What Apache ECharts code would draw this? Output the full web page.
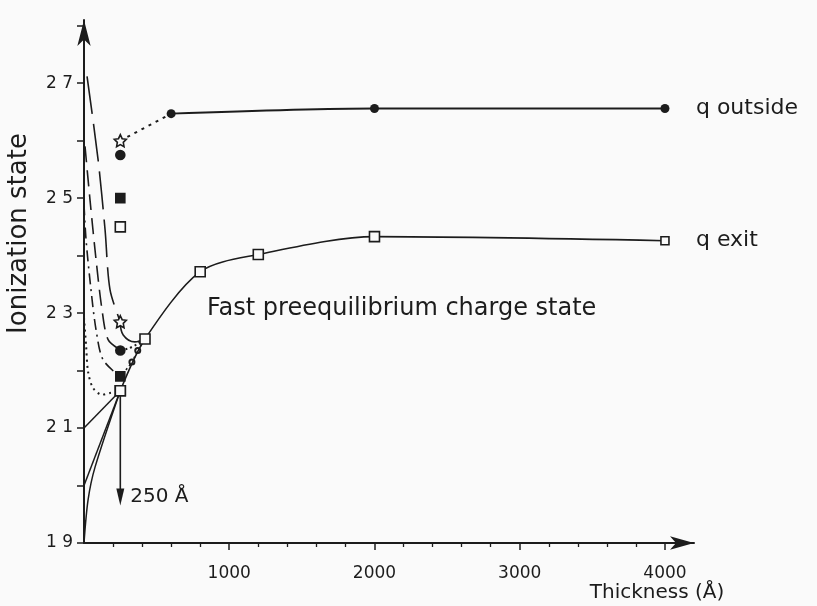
<!DOCTYPE html>
<html><head><meta charset="utf-8">
<script src="https://cdn.jsdelivr.net/npm/echarts@6/dist/echarts.min.js"></script>
<style>html,body{margin:0;padding:0;background:#fafafa}#c{width:817px;height:606px}</style>
</head><body><div id="c"></div>
<script>
// ---- axis ticks / labels ----
const yTickValues = [19,20,21,22,23,24,25,26,27,28];
const yLabelValues = [19,21,23,25,27];
const xLabelValues = [1000,2000,3000,4000];
const xMinorTickValues = [200,400,600,800,1200,1400,1600,1800,2200,2400,2600,2800,3200,3400,3600,3800];

// ---- main series ----
const exitThickness = [250,420,800,1200,2000,4000];
const exitCharge = [21.65,22.55,23.72,24.02,24.33,24.26];
const outsideThickness = [600,2000,4000];
const outsideCharge = [26.47,26.56,26.56];
const outsideLeadX = [250,600];
const outsideLeadY = [26.0,26.47];

// ---- points at 250 A ----
const foilX = 250;
const outsideAtFoil = [26.0,25.75,25.0,24.5]; // star, disc, full square, open square
const exitAtFoil = [22.85,22.35,21.9,21.65];

// ---- fast pre-equilibrium curves ----
const starCurveX = [21,97,145,179,250];
const starCurveY = [27.12,25.67,24.45,23.41,22.85];
const discCurveX = [7,41,83,124,166,250];
const discCurveY = [25.9,24.98,23.93,23.06,22.54,22.36];
const squareCurveX = [0,14,48,83,131,250];
const squareCurveY = [24.89,24.28,23.41,22.71,22.19,21.89];
const openCurveX = [0,14,28,62,124,179,250];
const openCurveY = [22.92,22.45,21.98,21.70,21.58,21.61,21.63];

const starJoinX = [250,270,350,420];
const starJoinY = [22.85,22.62,22.5,22.55];
const discJoinX = [250,300,360,420];
const discJoinY = [22.36,22.38,22.45,22.55];
const squareJoinX = [250,330,370,420];
const squareJoinY = [21.89,22.15,22.35,22.55];

const initLinesX = [[0,250],[0,250],[0,28,76,250]];
const initLinesY = [[21,21.65],[20,21.65],[19,19.75,20.32,21.65]];

const arrowX = [250,250];
const arrowY = [21.65,19.8];

const INK = '#1c1c1c';
const BG = '#fafafa';
const FONT = 'DejaVu Sans';
const STAR = 'path://M0,-10L2.9,-4L9.5,-3.1L4.7,1.5L5.9,8.1L0,5L-5.9,8.1L-4.7,1.5L-9.5,-3.1L-2.9,-4Z';

function zip(xs, ys){ return xs.map((x,i)=>[x, ys[i]]); }
function curve(xs, ys, dash, smooth, width){
  return {type:'line', data:zip(xs,ys), symbol:'none', smooth: smooth,
    lineStyle:{color:INK, width: width||1.6, type: dash}, silent:true, z:2};
}

const chart = echarts.init(document.getElementById('c'));
const series = [];
initLinesX.forEach((xs,i)=>series.push(curve(xs, initLinesY[i], 'solid', 0.3, 1.5)));
series.push(curve(starCurveX, starCurveY, [38,10], 0.3));
series.push(curve(discCurveX, discCurveY, [16,8], 0.3));
series.push(curve(squareCurveX, squareCurveY, [11,5,2,5], 0.3));
series.push(curve(openCurveX, openCurveY, [2,4], 0.3, 2));
series.push(curve(starJoinX, starJoinY, 'solid', 0.4));
series.push(curve(discJoinX, discJoinY, [2,3], 0.3, 2));
series.push({type:'line', data:zip(squareJoinX, squareJoinY), smooth:0.3,
  symbol:(v,p)=> (p.dataIndex===1||p.dataIndex===2)?'emptyCircle':'none', symbolSize:5,
  itemStyle:{color:INK, borderColor:INK, borderWidth:1.2},
  lineStyle:{color:INK,width:1.6,type:[6,3,2,3]}, z:2});
// q exit
series.push({name:'q exit', type:'line', data:zip(exitThickness, exitCharge), smooth:0.3,
  symbol:'rect', symbolSize:(v,p)=>p.dataIndex===exitThickness.length-1?8:10,
  itemStyle:{color:BG, borderColor:INK, borderWidth:1.6, opacity:1},
  lineStyle:{color:INK,width:1.6}, z:3,
  endLabel:{show:true, formatter:'q exit', distance:31, color:INK, fontFamily:FONT, fontSize:22}});
// q outside
series.push({type:'line', data:zip(outsideLeadX, outsideLeadY), symbol:'none',
  lineStyle:{color:INK,width:2,type:[3,5]}, z:2});
series.push({name:'q outside', type:'line', data:zip(outsideThickness, outsideCharge), smooth:0.3,
  symbol:'circle', symbolSize:9, itemStyle:{color:INK, opacity:1},
  lineStyle:{color:INK,width:1.8}, z:3,
  endLabel:{show:true, formatter:'q outside', distance:31, color:INK, fontFamily:FONT, fontSize:22}});
// markers at 250 A
const syms = [STAR,'circle','rect','rect'];
const fills = [BG,INK,INK,BG];
const sizes = [12,9,9,10];
[outsideAtFoil, exitAtFoil].forEach(arr=>{
  series.push({type:'scatter', z:4,
    data: arr.map((y,i)=>({value:[foilX,y], symbol:syms[i], symbolSize:sizes[i],
      itemStyle:{color:fills[i], borderColor:INK, borderWidth:1.6, opacity:1}}))});
});
// 250 A arrow
series.push({type:'line', z:2, data: zip(arrowX, arrowY).map((v,i)=> i===0 ? {value:v, symbol:'none'} :
   {value:v, symbol:'triangle', symbolRotate:180, symbolSize:[8,17],
    label:{show:true, position:'right', distance:6, formatter:'250 Å', color:INK, fontFamily:FONT, fontSize:20}}),
  itemStyle:{color:INK, opacity:1}, lineStyle:{color:INK,width:1.6}});

const option = {
  backgroundColor:BG,
  animation:false,
  grid:{left:84, right:123, top:20, bottom:63, containLabel:false, outerBoundsMode:'none'},
  xAxis:[{type:'value', min:0, max:4200,
    axisLine:{show:true, lineStyle:{color:INK,width:2}, symbol:['none','arrow'], symbolSize:[10,24]},
    axisTick:{show:true, customValues:xLabelValues, length:7, lineStyle:{color:INK,width:1.5}},
    axisLabel:{customValues:xLabelValues, color:INK, fontFamily:FONT, fontSize:17, margin:22,
      formatter:v=>String(v)},
    splitLine:{show:false},
    name:'Thickness (Å)', nameLocation:'middle', nameGap:40, nameMoveOverlap:false,
    nameTextStyle:{color:INK, fontFamily:FONT, fontSize:20, padding:[0,0,0,536]}},
   {type:'value', min:0, max:4200, position:'bottom',
    axisLine:{show:false},
    axisTick:{show:true, customValues:xMinorTickValues, length:4, lineStyle:{color:INK,width:1.3}},
    axisLabel:{show:false}, splitLine:{show:false}}],
  yAxis:{type:'value', min:19, max:28.1,
    axisLine:{show:true, lineStyle:{color:INK,width:2}, symbol:['none','arrow'], symbolSize:[10,26]},
    axisTick:{show:true, customValues:yTickValues, length:7, lineStyle:{color:INK,width:1.5}},
    axisLabel:{customValues:yLabelValues, color:INK, fontFamily:FONT, fontSize:17, margin:11,
      formatter:v=>String(v).split('').join(' ')},
    splitLine:{show:false},
    name:'Ionization state', nameLocation:'middle', nameGap:52,
    nameTextStyle:{color:INK, fontFamily:FONT, fontSize:26, padding:[0,0,0,96]}},
  graphic:[{type:'text', left:207, top:297,
    style:{text:'Fast preequilibrium charge state', fill:INK, font:'24px "DejaVu Sans"'}}],
  series: series
};
chart.setOption(option);
</script></body></html>
